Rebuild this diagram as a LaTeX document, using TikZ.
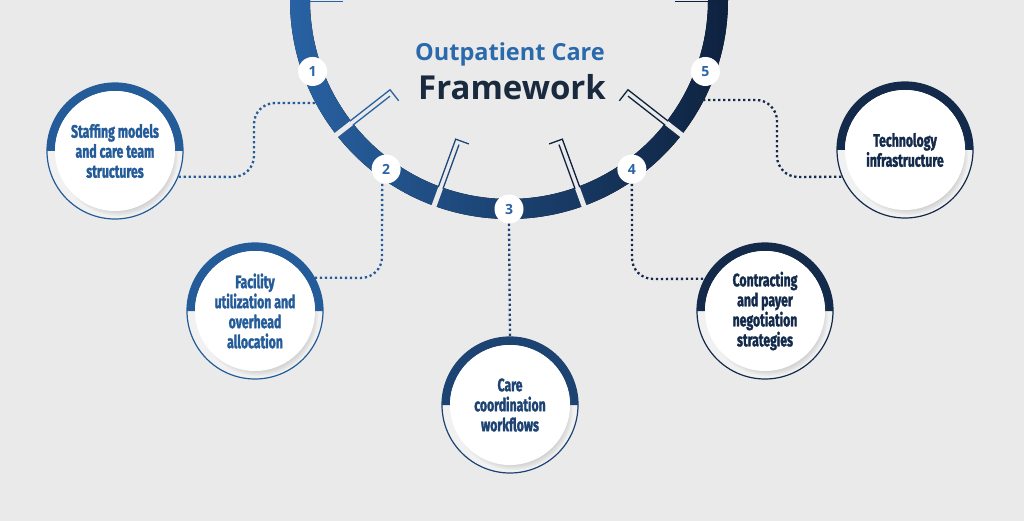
\documentclass[tikz,border=0pt]{standalone}
\usepackage{fontspec}
\setmainfont{Open Sans}
\newfontfamily\titlefont{Open Sans}
\newfontfamily\condfont[FakeStretch=0.68, FakeBold=1.6]{Fira Sans}
\usetikzlibrary{calc,shadows,fadings}
\definecolor{bg}{HTML}{EAEAEA}
\definecolor{ringfill}{HTML}{F1F1F1}
\definecolor{arcL}{HTML}{2862A3}
\definecolor{arcM}{HTML}{1D497C}
\definecolor{arcR}{HTML}{0E223F}
\definecolor{cA}{HTML}{245C9A}
\definecolor{cB}{HTML}{1D4373}
\definecolor{cC}{HTML}{132A4B}
\definecolor{titleblue}{HTML}{2A69AC}
\definecolor{titledark}{HTML}{1A2A3E}
\definecolor{numblue}{HTML}{2B65A6}
\tikzset{
  outerring/.style={circle, minimum size=136pt, inner sep=0pt, fill=ringfill, line width=1.2pt},
  innerdisc/.style={circle, minimum size=120pt, inner sep=0pt, fill=white,
    circular drop shadow={shadow scale=1.0, shadow xshift=3pt, shadow yshift=-5pt, opacity=0.4},
    font=\condfont\bfseries\fontsize{18}{20}\selectfont, align=center},
  numdot/.style={circle, fill=white, minimum size=29pt, inner sep=0pt,
    font=\titlefont\bfseries\fontsize{14}{14}\selectfont, text=numblue},
  dotline/.style={line width=2.3pt, dash pattern=on 2.3pt off 2.7pt, rounded corners=21pt},
  sepline/.style={line width=1.3pt}
}
\newcommand\drawitem[4]{%
  \node[outerring, draw=#3] (#1) at #2 {};
  \fill[#3] ($(#1.center)+(180:68)$) arc[start angle=180,end angle=360,radius=68]
     -- ($(#1.center)+(0:60)$) arc[start angle=0,end angle=-180,radius=60] -- cycle;
  \node[innerdisc, text=#3] (#1t) at #2 {#4};
}
\begin{document}
\begin{tikzpicture}[x=1pt,y=-1pt]
\useasboundingbox (0,0) rectangle (1024,521);
\fill[bg] (0,0) rectangle (1024,521);
\coordinate (C) at (509,0);
% big circles positions
\coordinate (p1) at (115,151);
\coordinate (p2) at (255,311);
\coordinate (p3) at (510,405);
\coordinate (p4) at (765,311);
\coordinate (p5) at (905,150);
% number dots positions
\coordinate (q1) at ($(C)+(160:209)$);
\coordinate (q2) at ($(C)+(126:209)$);
\coordinate (q3) at ($(C)+(90:209)$);
\coordinate (q4) at ($(C)+(54:209)$);
\coordinate (q5) at ($(C)+(20:209)$);
% connectors (below the arc)
\coordinate (a1) at (320,103);
\coordinate (a5) at (698,100);
% arc band
\fill[left color=arcL, middle color=arcM, right color=arcR]
  ($(C)+(180:219)$) arc[start angle=180,end angle=0,radius=219]
  -- ($(C)+(0:199)$) arc[start angle=0,end angle=180,radius=199] -- cycle;
% separators
\foreach \a/\h/\col in {142/-90/arcL, 110/-90/arcM, 70/+90/arcR, 38/+90/arcR}{
  \draw[line width=5pt, draw=bg] ($(C)+(\a:196)$) -- ($(C)+(\a:222)$);
  \draw[sepline, draw=\col] ($(C)+(\a:200)+({\a\h}:-2.5)$) -- ($(C)+(\a:149)+({\a\h}:-2.5)$) -- ++({\a\h}:14);
  \draw[sepline, draw=\col] ($(C)+(\a:200)+({\a\h}:2.5)$) -- ($(C)+(\a:153)+({\a\h}:2.5)$);
}
% top cap lines
\draw[sepline, draw=arcL] (290,1.5) -- (343,1.5);
\draw[sepline, draw=arcR] (675,1.5) -- (728,1.5);
% number dots
\node[numdot] (n1) at (q1) {1};
\node[numdot] (n2) at (q2) {2};
\node[numdot] (n3) at (q3) {3};
\node[numdot] (n4) at (q4) {4};
\node[numdot] (n5) at (q5) {5};
% title
\node[font=\titlefont\bfseries\fontsize{23.5}{24}\selectfont, text=titleblue] (t1) at (510,54) {Outpatient Care};
\node[font=\titlefont\bfseries\fontsize{33}{33}\selectfont, text=titledark] (t2) at (512,87) {Framework};
% big circles
\drawitem{c1}{(p1)}{cA}{Staffing models\\and care team\\structures}
\drawitem{c2}{(p2)}{cA}{Facility\\utilization and\\overhead\\allocation}
\drawitem{c3}{(p3)}{cB}{Care\\coordination\\workflows}
\drawitem{c4}{(p4)}{cC}{Contracting\\and payer\\negotiation\\strategies}
\drawitem{c5}{(p5)}{cC}{Technology\\infrastructure}
% connectors
\draw[dotline, cA] (a1) -- (254,103) -- (254,177) -- (c1.-22.5);
\draw[dotline, cA] ([xshift=-4pt]n2.south) -- (382,278) -- (c2.29);
\draw[dotline, cB] (n3.south) -- (c3.north);
\draw[dotline, cC] (n4.south) -- (632,279) -- (c4.152);
\draw[dotline, cC] (a5) -- (777,100) -- (777,177) -- (c5.203);
\end{tikzpicture}
\end{document}
